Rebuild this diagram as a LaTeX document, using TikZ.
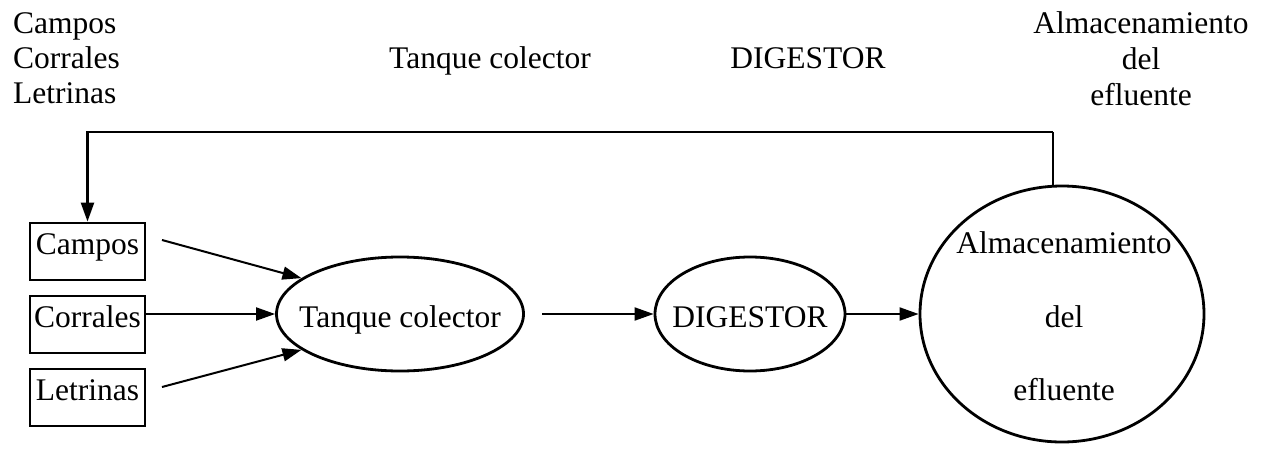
\documentclass[tikz,border=0pt]{standalone}
\usepackage{fontspec}
\setmainfont{Liberation Serif}
\usetikzlibrary{arrows.meta,shapes.geometric}
\begin{document}
\begin{tikzpicture}[x=1pt,y=-1pt,
  font=\fontsize{31.5}{35}\selectfont,
  box/.style={draw, line width=2.8pt, rectangle, inner sep=0pt, minimum width=115pt,
    text height=31pt, text depth=26pt, anchor=base},
  oval/.style={draw, ellipse, line width=2.8pt, inner sep=0pt},
  arr/.style={line width=2pt, -{Triangle[length=19pt,width=13pt]}},
  lbl/.style={inner sep=0pt, anchor=base}]
\useasboundingbox (0,0) rectangle (1264,450);

% top labels
\node[lbl, anchor=base west] (tl1) at (13,33) {Campos};
\node[lbl, anchor=base west] (tl2) at (13,68) {Corrales};
\node[lbl, anchor=base west] (tl3) at (13,103) {Letrinas};
\node[lbl] (tm1) at (490,68) {Tanque colector};
\node[lbl] (tm2) at (808,68) {DIGESTOR};
\node[lbl] (tr1) at (1141,33) {Almacenamiento};
\node[lbl] (tr2) at (1141,69) {del};
\node[lbl] (tr3) at (1141,105) {efluente};

% source boxes
\node[box] (campos) at (87.5,254) {Campos};
\node[box] (corrales) at (87.5,327) {Corrales};
\node[box] (letrinas) at (87.5,400) {Letrinas};

% ellipses
\node[oval, minimum width=247pt, minimum height=114pt] (tanque) at (400,314) {};
\node[lbl] (tanqueT) at (400,327) {Tanque colector};
\node[oval, minimum width=190pt, minimum height=114pt] (digestor) at (750,314) {};
\node[lbl] (digestorT) at (750,327) {DIGESTOR};
\node[oval, minimum width=284pt, minimum height=256pt] (alm) at (1062,314) {};
\node[lbl] (almT1) at (1064,253) {Almacenamiento};
\node[lbl] (almT2) at (1064,327) {del};
\node[lbl] (almT3) at (1064,400) {efluente};

% connectors
\coordinate (c1s) at (162,240);
\coordinate (c3s) at (162,387);
\coordinate (ts) at (542,314);
\coordinate (fb) at (1053,132);
\draw[arr] (c1s) -- (tanque.160);
\draw[arr] (c3s) -- (tanque.200);
\draw[arr] (corrales.east |- tanque.west) -- (tanque.west);
\draw[arr] (ts) -- (digestor.west);
\draw[arr] (digestor.east) -- (alm.west);
\draw[line width=2.4pt] (fb |- alm.north) -- (fb);
\draw[arr, line width=2.4pt] (fb) -| (campos.north);
\end{tikzpicture}
\end{document}
